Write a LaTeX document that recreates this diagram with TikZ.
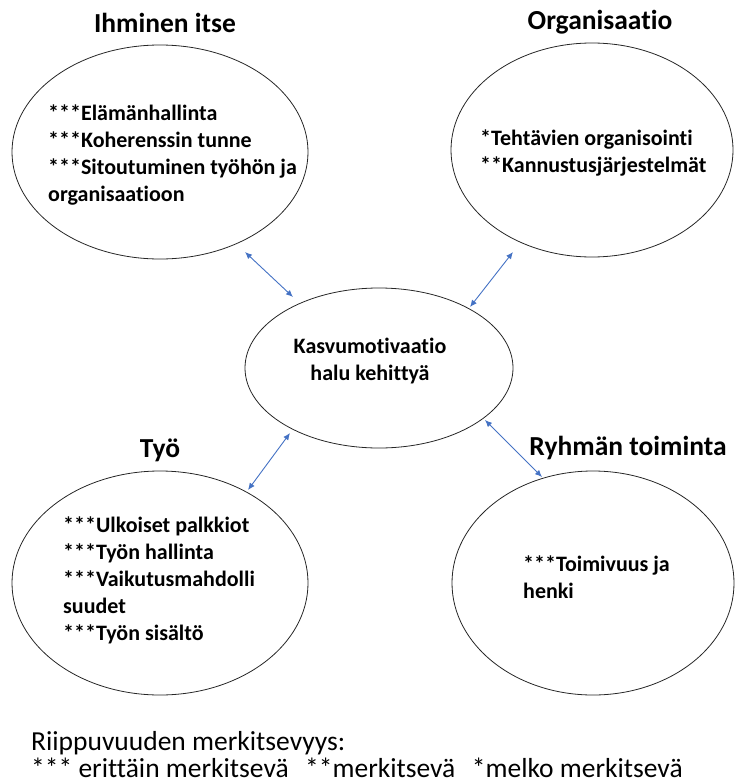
\documentclass[tikz,border=0pt]{standalone}
\usepackage{fontspec}
\setmainfont{Carlito}[Ligatures=NoCommon]
\usetikzlibrary{shapes.geometric,arrows.meta}
\definecolor{arrowblue}{HTML}{4472C4}
\tikzset{
  bubble/.style={draw=black!85, line width=0.8pt, ellipse, inner sep=0pt},
  title/.style={font=\fontsize{27.5}{32}\selectfont\bfseries, inner sep=0pt, anchor=base},
  body/.style={font=\fontsize{22}{27}\selectfont\bfseries, align=left, anchor=west, inner sep=0pt},
  legend/.style={font=\fontsize{27.5}{32}\selectfont, anchor=base west, inner sep=0pt},
  biarrow/.style={draw=arrowblue, line width=0.9pt, {Latex[length=7pt,width=6pt]}-{Latex[length=7pt,width=6pt]}}
}
\begin{document}
\begin{tikzpicture}[x=1pt,y=-1pt]
\useasboundingbox (0,0) rectangle (736,784);
% ellipses
\node[bubble, minimum width=296pt, minimum height=214pt] (e1) at (160,152) {};
\node[bubble, minimum width=282pt, minimum height=214pt] (e2) at (592,150) {};
\node[bubble, minimum width=268pt, minimum height=160pt] (c) at (379,368) {};
\node[bubble, minimum width=296pt, minimum height=224pt] (e4) at (160,583) {};
\node[bubble, minimum width=282pt, minimum height=224pt] (e5) at (593,583) {};
% titles
\node[title] (t1) at (165,33) {Ihminen itse};
\node[title] (t2) at (600,30) {Organisaatio};
\node[title] (t4) at (160,457) {Työ};
\node[title] (t5) at (628,455) {Ryhmän toiminta};
% texts
\node[body] (b1) at (48,155) {***Elämänhallinta\\***Koherenssin tunne\\***Sitoutuminen työhön ja\\organisaatioon};
\node[body] (b2) at (480,152.5) {*Tehtävien organisointi\\**Kannustusjärjestelmät};
\node[body, align=center, anchor=center] (bc) at (370,361) {Kasvumotivaatio\\halu kehittyä};
\node[body] (b4) at (63,580.5) {***Ulkoiset palkkiot\\***Työn hallinta\\***Vaikutusmahdolli\\suudet\\***Työn sisältö};
\node[body] (b5) at (523,577.5) {***Toimivuus ja\\henki};
% legend
\node[legend] (l1) at (31,750) {Riippuvuuden merkitsevyys:};
\node[legend] (l2) at (31,777) {*** erittäin merkitsevä\hspace{16.5pt}**merkitsevä\hspace{16.5pt}*melko merkitsevä};
% arrows
\coordinate (a1s) at (245,252); \coordinate (a1e) at (293,297);
\coordinate (a2s) at (513,252); \coordinate (a2e) at (470,307);
\coordinate (a3s) at (290,433); \coordinate (a3e) at (248,490);
\coordinate (a4s) at (485,420); \coordinate (a4e) at (542,477);
\draw[biarrow] (a1s) -- (a1e);
\draw[biarrow] (a2s) -- (a2e);
\draw[biarrow] (a3s) -- (a3e);
\draw[biarrow] (a4s) -- (a4e);
\end{tikzpicture}
\end{document}
